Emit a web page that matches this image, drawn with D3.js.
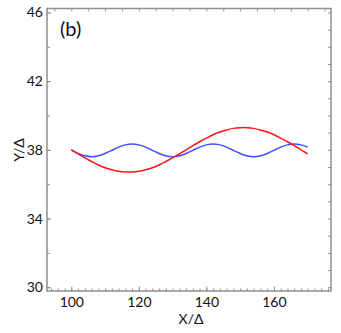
<!DOCTYPE html>
<html>
<head>
<meta charset="utf-8">
<script src="https://cdn.jsdelivr.net/npm/d3@7"></script>
<style>
  body { margin: 0; background: #fff; }
  svg text { font-family: Lato, "Open Sans", sans-serif; fill: #111; }
</style>
</head>
<body>
<div id="vis"></div>
<script>
// x positions shared by both curves
const xs = [100, 102, 104, 106, 108, 110, 112, 114, 116, 118, 120, 122, 124, 126, 128, 130, 132, 134,
  136, 138, 140, 142, 144, 146, 148, 150, 152, 154, 156, 158, 160, 162, 164, 166, 168, 170];

// red: the long wave
const redY = [38.00, 37.76, 37.53, 37.32, 37.12, 36.96, 36.84, 36.75, 36.71, 36.71, 36.75, 36.84,
  36.96, 37.12, 37.32, 37.53, 37.76, 38.00, 38.24, 38.47, 38.68, 38.88, 39.04, 39.16, 39.25,
  39.29, 39.29, 39.25, 39.16, 39.04, 38.88, 38.68, 38.47, 38.24, 38.00, 37.76];

// blue: the short wave
const blueY = [38.00, 37.79, 37.65, 37.60, 37.65, 37.79, 37.97, 38.16, 38.29, 38.34, 38.29, 38.16,
  37.97, 37.79, 37.65, 37.60, 37.65, 37.79, 37.97, 38.16, 38.29, 38.34, 38.29, 38.16, 37.97,
  37.79, 37.65, 37.60, 37.65, 37.79, 37.97, 38.16, 38.29, 38.34, 38.29, 38.16];

const xTickLabels = [100, 120, 140, 160];
const yTickLabels = [30, 34, 38, 42, 46];

const width = 341;
const height = 333;
const margin = { top: 8.5, right: 10, bottom: 42, left: 47 };

const svg = d3.select("#vis").append("svg")
  .attr("width", width)
  .attr("height", height);

const x = d3.scaleLinear()
  .domain([92.8, 176.9])
  .range([margin.left, width - margin.right]);

const y = d3.scaleLinear()
  .domain([29.78, 46.23])
  .range([height - margin.bottom, margin.top]);

const axisColour = "#8f8f8f";

function styleAxis(g) {
  g.select(".domain").remove();
  g.selectAll(".tick line").attr("stroke", axisColour).attr("stroke-width", 1);
  g.selectAll("text").style("font-size", "14px").attr("fill", "#111");
}

// minor ticks first, then the labelled ones
svg.append("g")
  .attr("transform", `translate(0,${y.range()[0]})`)
  .call(d3.axisBottom(x).tickValues(d3.range(94, 177, 2)).tickSize(-2.5).tickFormat(""))
  .call(styleAxis);
svg.append("g")
  .attr("transform", `translate(0,${y.range()[0]})`)
  .call(d3.axisBottom(x).tickValues(xTickLabels).tickSize(-4.5).tickPadding(6).tickFormat(d3.format("d")))
  .call(styleAxis);

svg.append("g")
  .attr("transform", `translate(0,${y.range()[1]})`)
  .call(d3.axisTop(x).tickValues(d3.range(95, 177, 5)).tickSize(-3).tickFormat(""))
  .call(styleAxis);

svg.append("g")
  .attr("transform", `translate(${x.range()[0]},0)`)
  .call(d3.axisLeft(y).tickValues(d3.range(30, 47, 2)).tickSize(-3).tickFormat(""))
  .call(styleAxis);
svg.append("g")
  .attr("transform", `translate(${x.range()[0]},0)`)
  .call(d3.axisLeft(y).tickValues(yTickLabels).tickSize(-4).tickPadding(4).tickFormat(d3.format("d")))
  .call(styleAxis);

svg.append("g")
  .attr("transform", `translate(${x.range()[1]},0)`)
  .call(d3.axisRight(y).tickValues(d3.range(30, 47, 1)).tickSize(-3).tickFormat(""))
  .call(styleAxis);

// frame
svg.append("rect")
  .attr("x", x.range()[0])
  .attr("y", y.range()[1])
  .attr("width", x.range()[1] - x.range()[0])
  .attr("height", y.range()[0] - y.range()[1])
  .attr("fill", "none")
  .attr("stroke", axisColour)
  .attr("stroke-width", 1.5);

const line = d3.line()
  .x((d, i) => x(xs[i]))
  .y(d => y(d))
  .curve(d3.curveNatural);

svg.append("path")
  .datum(blueY)
  .attr("fill", "none")
  .attr("stroke", "#3d50ff")
  .attr("stroke-width", 1.5)
  .attr("d", line);

svg.append("path")
  .datum(redY)
  .attr("fill", "none")
  .attr("stroke", "#ff1414")
  .attr("stroke-width", 1.5)
  .attr("d", line);

// labels
svg.append("text")
  .attr("x", 191)
  .attr("y", 324)
  .attr("text-anchor", "middle")
  .style("font-size", "14px")
  .text("X/Δ");

svg.append("text")
  .attr("transform", "translate(24,150) rotate(-90)")
  .attr("text-anchor", "middle")
  .style("font-size", "14px")
  .text("Y/Δ");

svg.append("text")
  .attr("x", 60)
  .attr("y", 36)
  .style("font-size", "20px")
  .text("(b)");
</script>
</body>
</html>
